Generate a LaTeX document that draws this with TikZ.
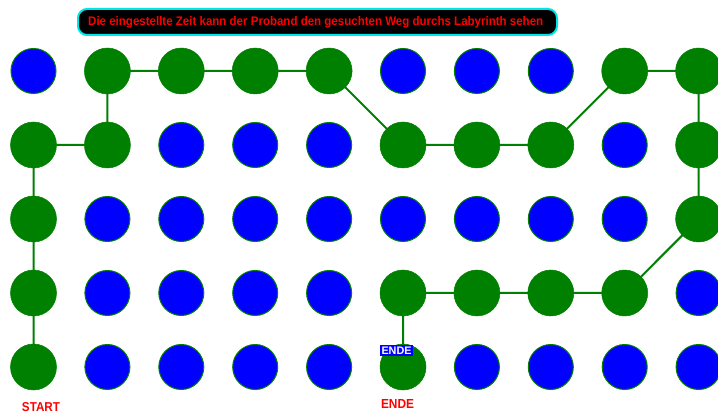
\documentclass[tikz,border=0pt]{standalone}
\usepackage{fontspec}
\setmainfont{Liberation Sans}
\definecolor{pgreen}{RGB}{0,128,0}
\definecolor{pblue}{RGB}{0,0,255}
\definecolor{pred}{RGB}{255,0,0}
\definecolor{pcyan}{RGB}{0,230,230}
\tikzset{
  dot/.style={circle, minimum size=45pt, inner sep=0pt, fill=pblue, draw=pgreen, line width=1pt},
  gdot/.style={circle, minimum size=46pt, inner sep=0pt, fill=pgreen, draw=pgreen, line width=0.5pt},
  path/.style={draw=pgreen, line width=2pt},
  lbl/.style={text=pred, inner sep=0pt}
}
\begin{document}
\begin{tikzpicture}[x=1pt,y=-1pt]
\useasboundingbox (0,0) rectangle (718,414);
\clip (0,0) rectangle (718,414);
% grid
\foreach \c in {1,...,10} {
  \foreach \r in {1,...,5} {
    \pgfmathsetmacro{\xx}{33.5+(\c-1)*73.9}
    \pgfmathsetmacro{\yy}{71+(\r-1)*74}
    \coordinate (p-\c-\r) at (\xx,\yy);
  }
}
% blue circles
\foreach \c/\r in {1/1,6/1,7/1,8/1,
  3/2,4/2,5/2,9/2,
  2/3,3/3,4/3,5/3,6/3,7/3,8/3,9/3,
  2/4,3/4,4/4,5/4,10/4,
  2/5,3/5,4/5,5/5,7/5,8/5,9/5,10/5} {
  \node[dot] (b-\c-\r) at (p-\c-\r) {};
}
% green path lines
\draw[path] (p-1-5) -- (p-1-4) -- (p-1-3) -- (p-1-2) -- (p-2-2) -- (p-2-1) -- (p-3-1) -- (p-4-1) -- (p-5-1)
  -- (p-6-2) -- (p-7-2) -- (p-8-2) -- (p-9-1) -- (p-10-1) -- (p-10-2) -- (p-10-3)
  -- (p-9-4) -- (p-8-4) -- (p-7-4) -- (p-6-4) -- (p-6-5);
% green circles
\foreach \c/\r in {2/1,3/1,4/1,5/1,9/1,10/1,
  1/2,2/2,6/2,7/2,8/2,10/2,
  1/3,10/3,
  1/4,6/4,7/4,8/4,9/4,
  1/5,6/5} {
  \node[gdot] (g-\c-\r) at (p-\c-\r) {};
}
% title
\node[draw=pcyan, line width=2pt, fill=black, rounded corners=9pt, minimum width=479pt, minimum height=26pt, inner sep=0pt] (title) at (317.5,22) {};
\node[text=pred, inner sep=0pt, anchor=base west] (titletext) at (88,25.3) {\resizebox{455pt}{9pt}{\bfseries Die eingestellte Zeit kann der Proband den gesuchten Weg durchs Labyrinth sehen}};
% labels
\node[fill=pblue, text=white, inner sep=0pt, minimum width=33pt, minimum height=10.5pt] (endetag) at (396.5,350.5) {\resizebox{30pt}{7.5pt}{\bfseries ENDE}};
\node[lbl] (ende) at (397.5,404) {\resizebox{33pt}{9pt}{\bfseries ENDE}};
\node[lbl] (start) at (41,407.3) {\resizebox{38pt}{9pt}{\bfseries START}};
\end{tikzpicture}
\end{document}
